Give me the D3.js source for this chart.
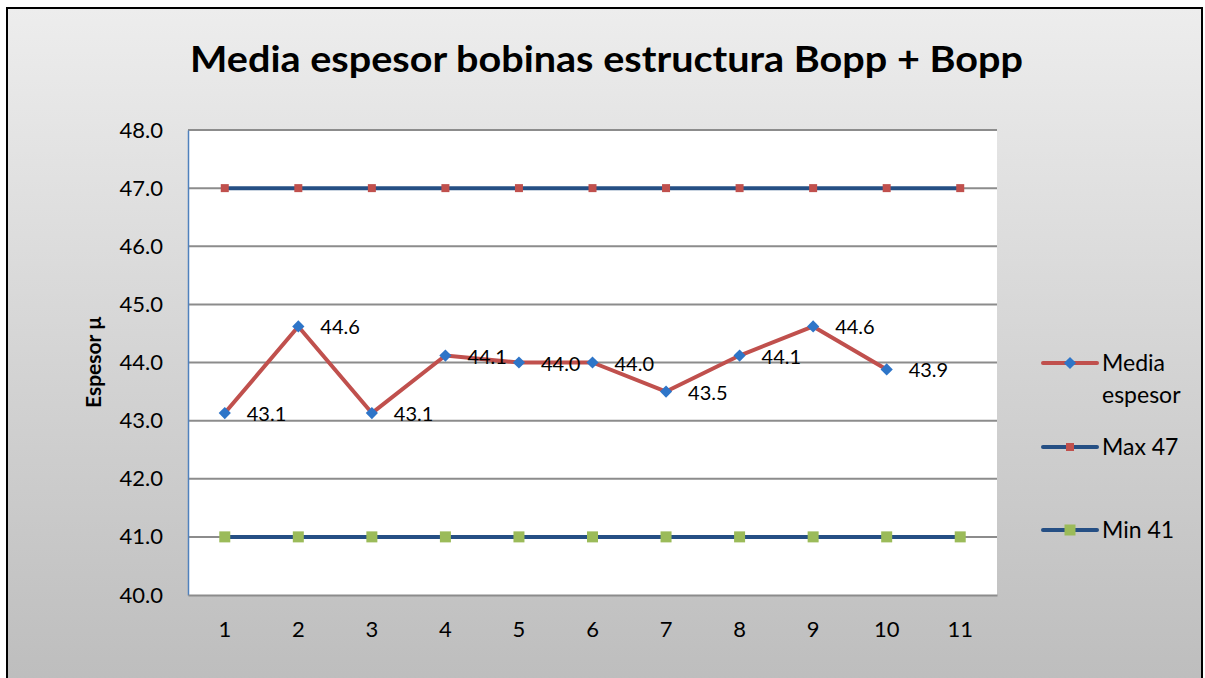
<!DOCTYPE html>
<html>
<head>
<meta charset="utf-8">
<script src="https://cdn.jsdelivr.net/npm/d3@7"></script>
<style>
  body { margin: 0; background: #fff; }
  text { font-family: Lato, "Open Sans", sans-serif; fill: #000; }
</style>
</head>
<body>
<svg id="chart" width="1205" height="678"></svg>
<script>
// data
const categories = [1, 2, 3, 4, 5, 6, 7, 8, 9, 10, 11]
const mediaEspesor = [43.13, 44.62, 43.13, 44.12, 44.0, 44.0, 43.5, 44.12, 44.62, 43.88]
const max47 = [47, 47, 47, 47, 47, 47, 47, 47, 47, 47, 47]
const min41 = [41, 41, 41, 41, 41, 41, 41, 41, 41, 41, 41]
const yTicks = [40, 41, 42, 43, 44, 45, 46, 47, 48]

const W = 1205, H = 678
const plot = {left: 188, right: 997, top: 130, bottom: 595}
const svg = d3.select('#chart')

// background + frame
const grad = svg.append('defs').append('linearGradient')
    .attr('id', 'bg').attr('x1', 0).attr('y1', 0).attr('x2', 0).attr('y2', 1)
grad.append('stop').attr('offset', '0%').attr('stop-color', '#ededed')
grad.append('stop').attr('offset', '100%').attr('stop-color', '#bdbdbd')

svg.append('rect').attr('x', 0).attr('y', 0).attr('width', W).attr('height', H).attr('fill', '#fff')
svg.append('rect')
    .attr('x', 7).attr('y', 8).attr('width', 1195).attr('height', 680)
    .attr('fill', 'url(#bg)').attr('stroke', '#000').attr('stroke-width', 2)

svg.append('text')
    .attr('x', 190).attr('y', 72)
    .attr('textLength', 833).attr('lengthAdjust', 'spacingAndGlyphs')
    .style('font-size', '37px').style('font-weight', 'bold')
    .text('Media espesor bobinas estructura Bopp + Bopp')

// scales
const x = d3.scaleBand().domain(categories).range([plot.left, plot.right])
const cx = c => x(c) + x.bandwidth() / 2
const y = d3.scaleLinear().domain([40, 48]).range([plot.bottom, plot.top])

svg.append('rect')
    .attr('x', plot.left).attr('y', plot.top)
    .attr('width', plot.right - plot.left).attr('height', plot.bottom - plot.top)
    .attr('fill', '#fff')

// gridlines
svg.append('g').selectAll('line').data(yTicks.filter(d => d > 40)).enter()
    .append('line')
    .attr('x1', plot.left).attr('x2', plot.right)
    .attr('y1', d => y(d)).attr('y2', d => y(d))
    .attr('stroke', '#8c8c8c').attr('stroke-width', 2)

// axes
const yAxis = svg.append('g')
    .attr('transform', `translate(${plot.left},0)`)
    .call(d3.axisLeft(y).tickValues(yTicks).tickFormat(d3.format('.1f')).tickSize(0).tickPadding(25))
yAxis.select('.domain').attr('stroke', '#4f81bd').attr('stroke-width', 1.5)
yAxis.selectAll('text').style('font-size', '22px').style('font-family', 'Lato, sans-serif')

const xAxis = svg.append('g')
    .attr('transform', `translate(0,${plot.bottom})`)
    .call(d3.axisBottom(x).tickSize(0).tickPadding(26))
xAxis.select('.domain').attr('stroke', '#8c8c8c').attr('stroke-width', 2)
xAxis.selectAll('text').style('font-size', '22px').style('font-family', 'Lato, sans-serif')

svg.append('text')
    .attr('transform', `translate(101,362) rotate(-90)`)
    .attr('text-anchor', 'middle')
    .style('font-size', '21px').style('font-weight', 'bold')
    .text('Espesor µ')

const line = d3.line().x((d, i) => cx(categories[i])).y(d => y(d))
const diamond = d3.symbol().type(d3.symbolDiamond2).size(95)

/* Series lines */
const series = [
    {name: 'Max 47', vals: max47, stroke: '#254f84', marker: 'sq', fill: '#c0504d', ms: 8},
    {name: 'Min 41', vals: min41, stroke: '#254f84', marker: 'sq', fill: '#9bbb59', ms: 11},
    {name: 'Media espesor', vals: mediaEspesor, stroke: '#c0504d', marker: 'dia', fill: '#2e75c8', ms: 12}
]
series.forEach(s => {
    svg.append('path').datum(s.vals)
        .attr('d', line).attr('fill', 'none')
        .attr('stroke', s.stroke).attr('stroke-width', 4).attr('stroke-linejoin', 'round')
    const g = svg.append('g')
    s.vals.forEach((v, i) => {
        if (s.marker === 'sq')
            g.append('rect')
                .attr('x', cx(categories[i]) - s.ms / 2).attr('y', y(v) - s.ms / 2)
                .attr('width', s.ms).attr('height', s.ms).attr('fill', s.fill)
        else
            g.append('path').attr('d', diamond)
                .attr('transform', `translate(${cx(categories[i])},${y(v)})`)
                .attr('fill', s.fill)
    })
})

/* Data labels */
svg.append('g').selectAll('text').data(mediaEspesor).enter()
    .append('text')
    .attr('x', (d, i) => cx(categories[i]) + 22)
    .attr('y', (d, i) => y(d) + 8)
    .style('font-size', '20px')
    .text(d => d.toFixed(1))

/* Legend */
const legend = [
    {s: series[2], y: 363, lines: ['Media', 'espesor']},
    {s: series[0], y: 447, lines: ['Max 47']},
    {s: series[1], y: 530, lines: ['Min 41']}
]
legend.forEach(l => {
    const g = svg.append('g')
    g.append('line').attr('x1', 1043).attr('x2', 1097).attr('y1', l.y).attr('y2', l.y)
        .attr('stroke', l.s.stroke).attr('stroke-width', 4).attr('stroke-linecap', 'round')
    if (l.s.marker === 'sq')
        g.append('rect').attr('x', 1070 - l.s.ms / 2).attr('y', l.y - l.s.ms / 2)
            .attr('width', l.s.ms).attr('height', l.s.ms).attr('fill', l.s.fill)
    else
        g.append('path').attr('d', diamond).attr('transform', `translate(1070,${l.y})`).attr('fill', l.s.fill)
    l.lines.forEach((t, i) => g.append('text')
        .attr('x', 1102).attr('y', l.y + 8 + i * 32)
        .style('font-size', '23px').text(t))
})
</script>
</body>
</html>
